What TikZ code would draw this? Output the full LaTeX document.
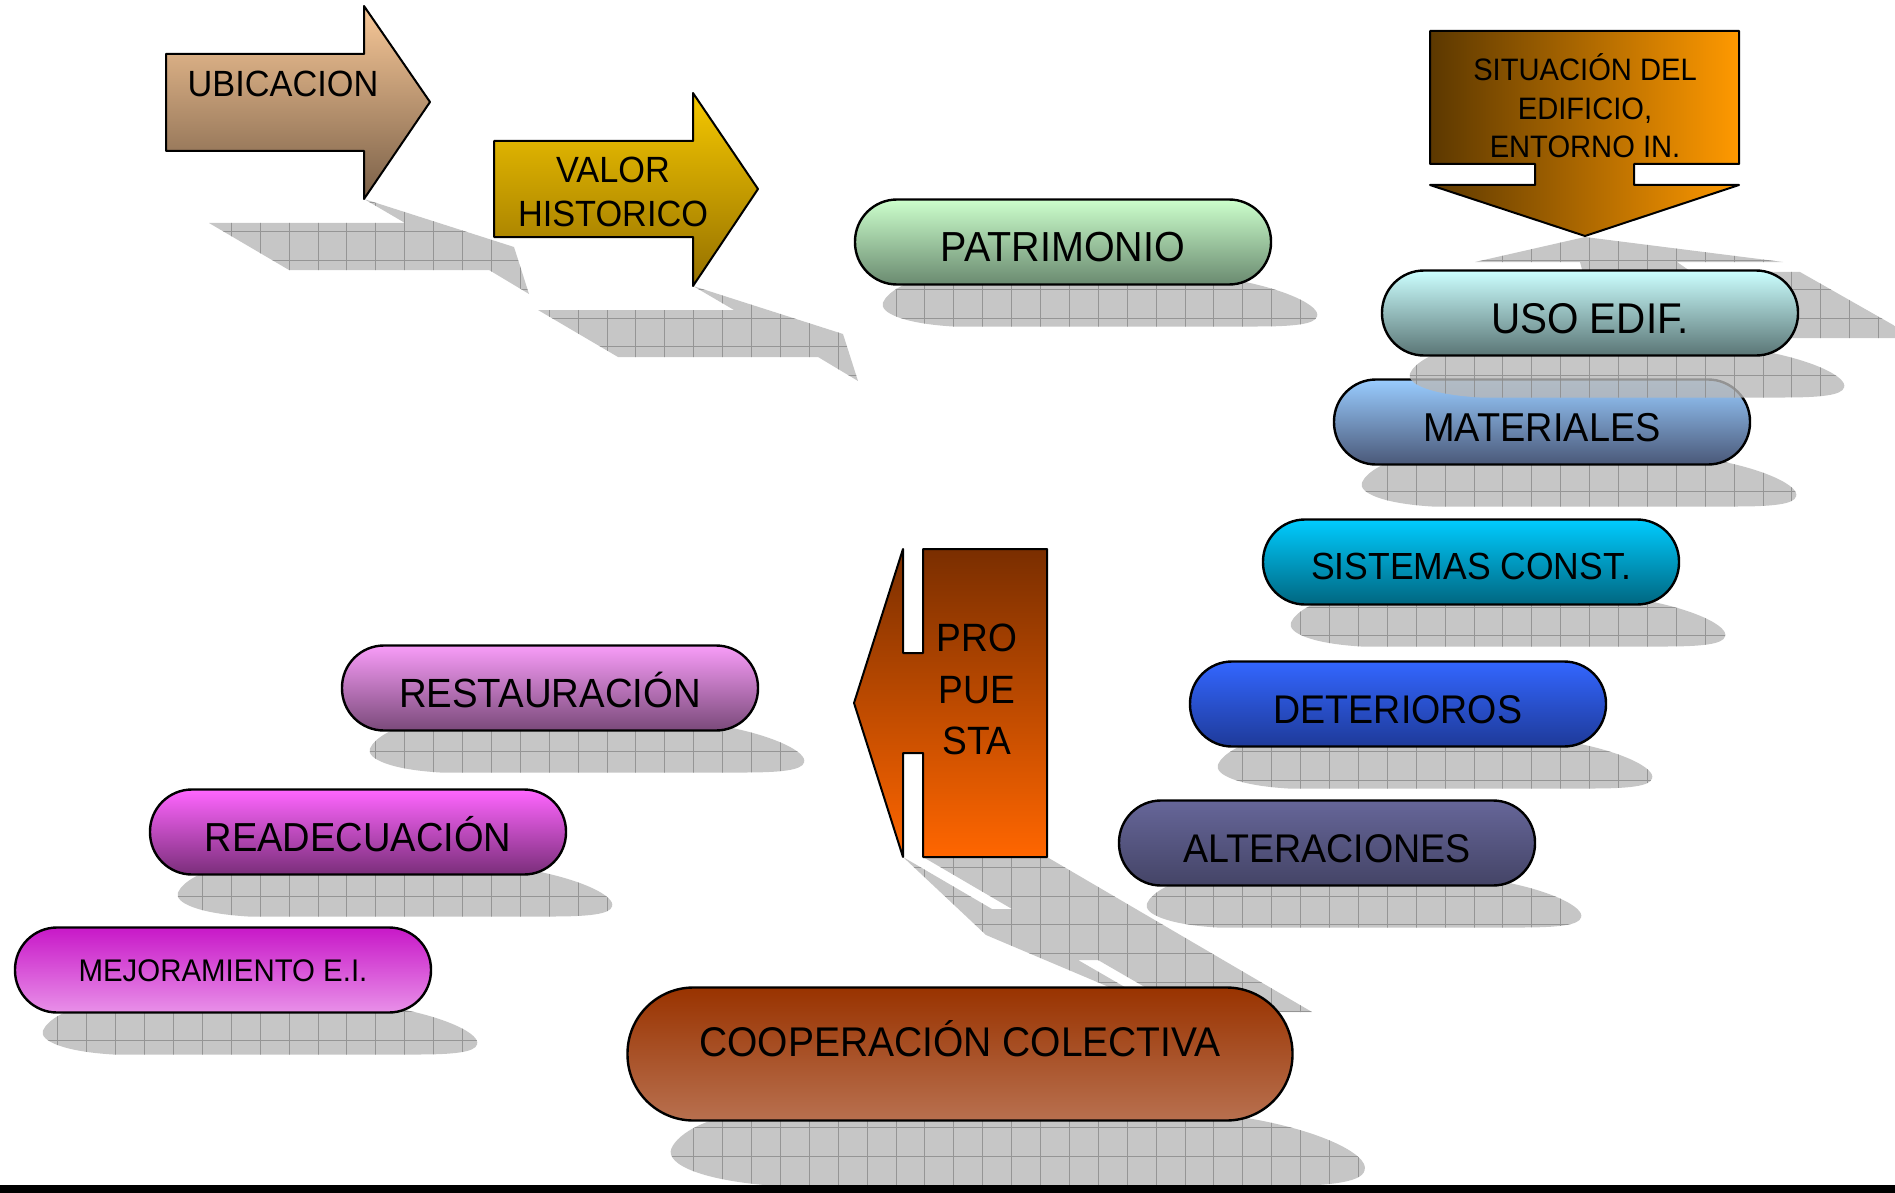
\documentclass[tikz,border=0pt]{standalone}
\usepackage{fontspec}
\usepackage{xcolor}
\usepackage{tikz}
\newfontfamily\lblfont[FakeStretch=0.94]{Liberation Sans}
\definecolor{ShadowGrey}{HTML}{B8B8B8}
\definecolor{GridGrey}{HTML}{8A8A8A}
\definecolor{UbiTop}{HTML}{F8C898}
\definecolor{UbiBot}{HTML}{7A6048}
\definecolor{ValTop}{HTML}{F5C800}
\definecolor{ValBot}{HTML}{957000}
\definecolor{SitLeft}{HTML}{5C3800}
\definecolor{SitRight}{HTML}{FF9900}
\definecolor{ProTop}{HTML}{7A2E00}
\definecolor{ProBot}{HTML}{FF6600}
\definecolor{PatTop}{HTML}{CCFFCC}
\definecolor{PatBot}{HTML}{6A8A70}
\definecolor{UsoTop}{HTML}{CCFFFF}
\definecolor{UsoBot}{HTML}{5A7575}
\definecolor{MatTop}{HTML}{99CCFF}
\definecolor{MatBot}{HTML}{4A5878}
\definecolor{SisTop}{HTML}{00CCFF}
\definecolor{SisBot}{HTML}{006680}
\definecolor{DetTop}{HTML}{3366FF}
\definecolor{DetBot}{HTML}{1E3A99}
\definecolor{AltTop}{HTML}{666699}
\definecolor{AltBot}{HTML}{444466}
\definecolor{ResTop}{HTML}{F89CF8}
\definecolor{ResBot}{HTML}{7A4A7A}
\definecolor{ReaTop}{HTML}{FF66FF}
\definecolor{ReaBot}{HTML}{7A2E7A}
\definecolor{MejTop}{HTML}{C818C8}
\definecolor{MejBot}{HTML}{E890E8}
\definecolor{CooTop}{HTML}{993300}
\definecolor{CooBot}{HTML}{B8704F}

\tikzset{
  capsule/.style={draw,line width=2.4pt,rounded corners=42pt,
    minimum width=416pt,minimum height=85pt,inner sep=0pt},
  lbl/.style={font=\lblfont\fontsize{#1}{#1}\selectfont},
  shapeline/.style={draw,line width=2pt,line join=round},
}

% grey squared shadow inside a closed path
\newcommand\gridfill[1]{%
  \begin{scope}[opacity=.8]
    \clip #1;
    \fill[ShadowGrey] (0,0) rectangle (1895,1193);
    \draw[GridGrey,line width=.8pt,step=28.9pt] (0,0) grid (1895,1193);
  \end{scope}}

% shadow under a capsule: centre x, centre y, width, height
\newcommand\capshadow[4]{%
  \pgfmathsetmacro\shk{#4/85}%
  \pgfmathsetmacro\shL{#1-#3/2+28*\shk}%
  \pgfmathsetmacro\shR{#1+#3/2+46*\shk}%
  \pgfmathsetmacro\shT{#2+#4/2}%
  \pgfmathsetmacro\shB{\shT+42*\shk}%
  \gridfill{({\shL+50*\shk},{\shT-6}) -- ({\shR-90*\shk},{\shT-6})
    .. controls ({\shR-30*\shk},{\shT+4*\shk}) and ({\shR+4*\shk},{\shB-20*\shk}) .. (\shR,{\shB-10*\shk})
    .. controls ({\shR-2*\shk},{\shB-2*\shk}) and ({\shR-25*\shk},\shB) .. ({\shR-60*\shk},\shB)
    -- ({\shL+70*\shk},\shB)
    .. controls ({\shL+20*\shk},{\shB-3*\shk}) and ({\shL-4*\shk},{\shT+28*\shk}) .. (\shL,{\shT+18*\shk})
    .. controls ({\shL+4*\shk},{\shT+8*\shk}) and ({\shL+25*\shk},{\shT-6}) .. ({\shL+50*\shk},{\shT-6})
    -- cycle}}

% shadow behind a right arrow, from the lower corner of its head
\newcommand\arrowshadow[2]{%
  \gridfill{(#1,#2) -- ({#1+41},{#2+24}) -- ({#1-155},{#2+24}) -- ({#1-75},{#2+71})
    -- ({#1+125},{#2+71}) -- ({#1+165},{#2+95}) -- ({#1+150},{#2+48}) -- cycle}}

\begin{document}
\begin{tikzpicture}[x=1pt,y=-1pt]
\useasboundingbox (0,0) rectangle (1895,1193);

% Shadows of the block arrows.
\arrowshadow{364}{199}
\arrowshadow{693}{286}
\gridfill{(1475,262) -- (1585,237) -- (1783,262) -- (1677,262) -- (1690,271)
  -- (1800,272) -- (1895,326) -- (1895,338) -- (1600,338) -- (1580,262) -- cycle}
\gridfill{(1188,1012) -- (1312,1012) -- (1047,857) -- (923,857) -- (1012,909)
  -- (992,909) -- (903,857) -- (986,935) -- (1168,1012) -- (1078,960)
  -- (1098,960) -- cycle}

% Capsules, lowest first so the upper shadows fall on them.
\foreach \name/\cx/\cy/\ctop/\cbot/\fs/\th/\txt in {
  patrimonio/1063/242/PatTop/PatBot/42/.95/PATRIMONIO,
  alteraciones/1327/843/AltTop/AltBot/40/.95/ALTERACIONES,
  deterioros/1398/704/DetTop/DetBot/40/.95/DETERIOROS,
  sistemas/1471/562/SisTop/SisBot/37.8/.9/SISTEMAS CONST.,
  materiales/1542/422/MatTop/MatBot/40.3/.95/MATERIALES,
  uso/1590/313/UsoTop/UsoBot/43/.95/USO EDIF.,
  restauracion/550/688/ResTop/ResBot/40.8/.95/RESTAURACIÓN,
  readecuacion/358/832/ReaTop/ReaBot/40.5/.95/READECUACIÓN,
  mejoramiento/223/970/MejTop/MejBot/31.3/.74/MEJORAMIENTO E.I.}
{
  \capshadow{\cx}{\cy}{416}{85}
  \node[capsule,top color=\ctop,bottom color=\cbot,lbl=\fs,
    text height={\fs*\th pt},text depth=0pt] (\name) at (\cx,\cy) {\txt};
}

\capshadow{960}{1054}{665}{133}
\node[capsule,minimum width=665pt,minimum height=133pt,rounded corners=66pt,
  top color=CooTop,bottom color=CooBot,lbl=41.5,text height=30pt,
  text depth=26pt] (cooperacion) at (960,1054) {COOPERACIÓN COLECTIVA};

% Block arrows.
\path[shapeline,top color=UbiTop,bottom color=UbiBot]
  (166,54) -- (364,54) -- (364,6) -- (430,102) -- (364,199) -- (364,151)
  -- (166,151) -- cycle;
\node[lbl=36.5] (ubicacion) at (283,83.5) {UBICACION};

\path[shapeline,top color=ValTop,bottom color=ValBot]
  (494,141) -- (693,141) -- (693,93) -- (758,189) -- (693,286) -- (693,237)
  -- (494,237) -- cycle;
\node[font=\lblfont\fontsize{36.5}{44}\selectfont,align=center] (valor)
  at (613,192) {VALOR\\HISTORICO};

\path[shapeline,left color=SitLeft,right color=SitRight]
  (1430,31) -- (1739,31) -- (1739,164) -- (1634,164) -- (1634,185)
  -- (1739,185) -- (1585,236) -- (1430,185) -- (1535,185) -- (1535,164)
  -- (1430,164) -- cycle;
\node[font=\lblfont\fontsize{31}{38.5}\selectfont,align=center] (situacion)
  at (1585,106) {SITUACIÓN DEL\\EDIFICIO,\\ENTORNO IN.};

\path[shapeline,top color=ProTop,bottom color=ProBot]
  (923,549) -- (1047,549) -- (1047,857) -- (923,857) -- (923,753)
  -- (903,753) -- (903,857) -- (854,703) -- (903,549) -- (903,653)
  -- (923,653) -- cycle;
\node[font=\lblfont\fontsize{39.5}{51.5}\selectfont,align=center] (propuesta)
  at (977,689.5) {PRO\\PUE\\STA};

\fill[black] (0,1185) rectangle (1895,1193);
\end{tikzpicture}
\end{document}
